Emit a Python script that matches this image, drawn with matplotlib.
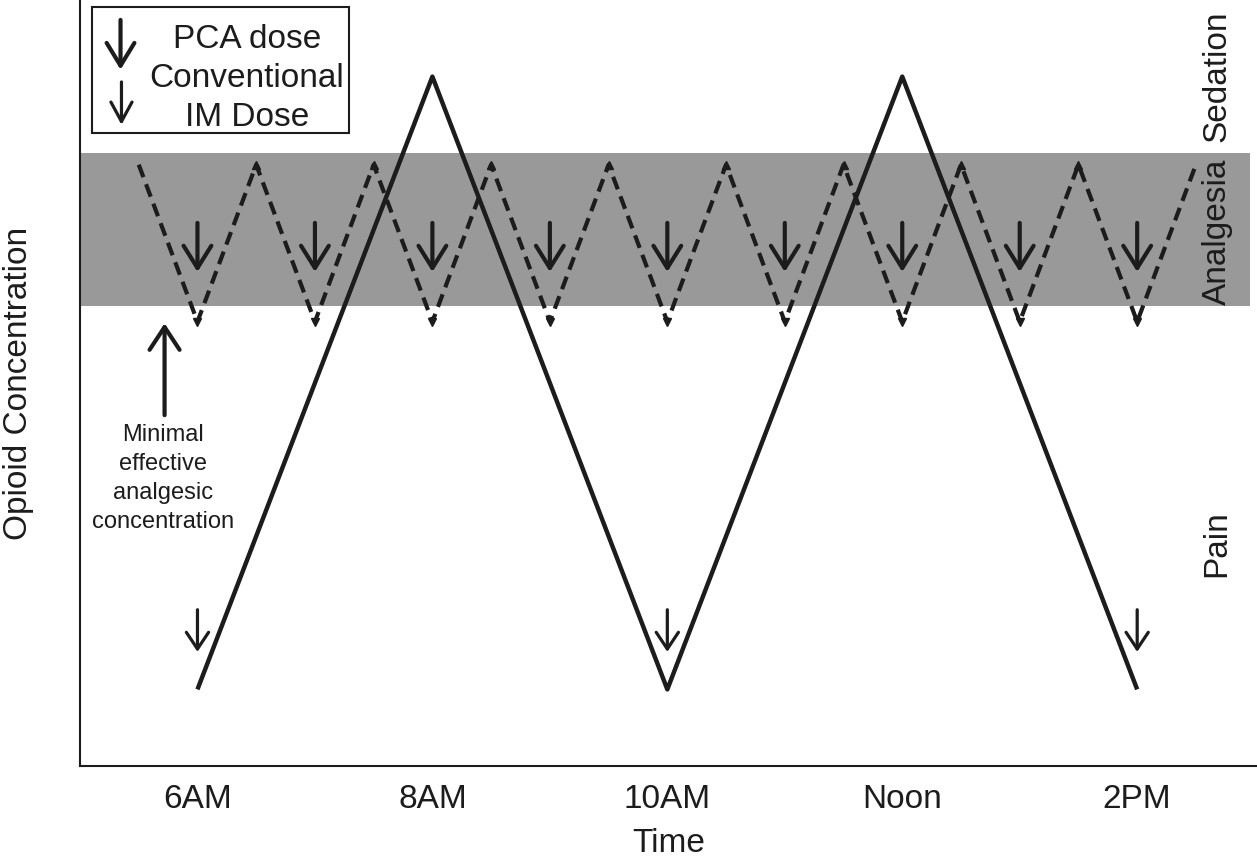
import matplotlib
matplotlib.use("Agg")
import matplotlib.pyplot as plt
from matplotlib.patches import Rectangle

plt.rcParams['font.family'] = ['Liberation Sans', 'DejaVu Sans']

# conventional IM dosing: concentration swings (arbitrary units 0-100)
im_hours = [6, 8, 10, 12, 14]
im_conc = [10, 90, 10, 90, 10]

# PCA dosing: small swings inside the analgesic band
pca_hours = [5.5, 6, 6.5, 7, 7.5, 8, 8.5, 9, 9.5, 10, 10.5, 11, 11.5, 12, 12.5, 13, 13.5, 14, 14.5]
pca_conc = [78.5, 58, 78.5, 58, 78.5, 58, 78.5, 58, 78.5, 58, 78.5, 58, 78.5, 58, 78.5, 58, 78.5, 58, 78.5]

pca_dose_times = [6, 7, 8, 9, 10, 11, 12, 13, 14]
im_dose_times = [6, 10, 14]

band_low, band_high = 60, 80

tick_hours = [6, 8, 10, 12, 14]
tick_labels = ['6AM', '8AM', '10AM', 'Noon', '2PM']

ink = '#1c1c1c'
fs = 24

fig = plt.figure(figsize=(12.57, 8.61), dpi=100)
ax = fig.add_axes([80 / 1257, 95 / 861, 1177 / 1257, 766 / 861])
ax.set_xlim(5.0, 15.02)
ax.set_ylim(0, 100)

# analgesia band
ax.axhspan(band_low, band_high, xmin=0, xmax=0.994, color='#999999', lw=0, zorder=0)

# PCA curve (dashed) with little heads at the turning points
ax.plot(pca_hours, pca_conc, color=ink, lw=3, dashes=(3.2, 1.8), solid_joinstyle='miter', zorder=2)
ax.plot(pca_hours[1:-1:2], pca_conc[1:-1:2], 'v', color=ink, ms=5.5, zorder=2)
ax.plot(pca_hours[2:-1:2], pca_conc[2:-1:2], '^', color=ink, ms=5.5, zorder=2)

# conventional IM curve
ax.plot(im_hours, im_conc, color=ink, lw=3.2, solid_capstyle='butt', zorder=3)


def arrow(x0, y0, x1, y1, lw, hl, hw):
    ax.annotate('', xy=(x1, y1), xytext=(x0, y0),
                arrowprops=dict(arrowstyle='->,head_length=%g,head_width=%g' % (hl, hw),
                                lw=lw, color=ink, shrinkA=0, shrinkB=0, mutation_scale=20),
                zorder=4)


for t in pca_dose_times:
    arrow(t, 70.9, t, 64.5, 3, 0.8, 0.5)

for t in im_dose_times:
    arrow(t, 20.4, t, 14.9, 2.3, 0.6, 0.4)

# minimal effective concentration pointer
arrow(5.72, 45.8, 5.72, 57.8, 3, 0.82, 0.54)
ax.text(5.71, 44.6, 'Minimal\neffective\nanalgesic\nconcentration', ha='center', va='top',
        fontsize=17, linespacing=1.4, color=ink)

# legend box
ax.add_patch(Rectangle((5.106, 82.6), 2.188, 16.5, fill=False, ec=ink, lw=1.5, zorder=5))
arrow(5.345, 97.4, 5.345, 90.9, 3, 0.82, 0.5)
arrow(5.353, 89.3, 5.353, 83.7, 2.3, 0.7, 0.38)
ax.text(6.42, 93.7, 'PCA dose', ha='center', va='baseline', fontsize=fs, color=ink)
ax.text(6.42, 88.6, 'Conventional', ha='center', va='baseline', fontsize=fs, color=ink)
ax.text(6.42, 83.6, 'IM Dose', ha='center', va='baseline', fontsize=fs, color=ink)

# zone labels on the right
for lab, yy in [('Sedation', 90.1), ('Analgesia', 69.8), ('Pain', 29.0)]:
    ax.text(14.68, yy, lab, rotation=90, ha='center', va='center', fontsize=fs, color=ink)

ax.set_xticks(tick_hours, tick_labels)
ax.set_yticks([])
ax.tick_params(axis='x', length=0, pad=13, labelsize=fs, labelcolor=ink)
ax.set_xlabel('Time', fontsize=fs, labelpad=9, color=ink)
ax.set_ylabel('Opioid Concentration', fontsize=fs, labelpad=33, color=ink)

for s in ['top', 'right']:
    ax.spines[s].set_visible(False)
for s in ['left', 'bottom']:
    ax.spines[s].set_linewidth(1.5)
    ax.spines[s].set_color(ink)

fig.savefig('out.png', dpi=100)
